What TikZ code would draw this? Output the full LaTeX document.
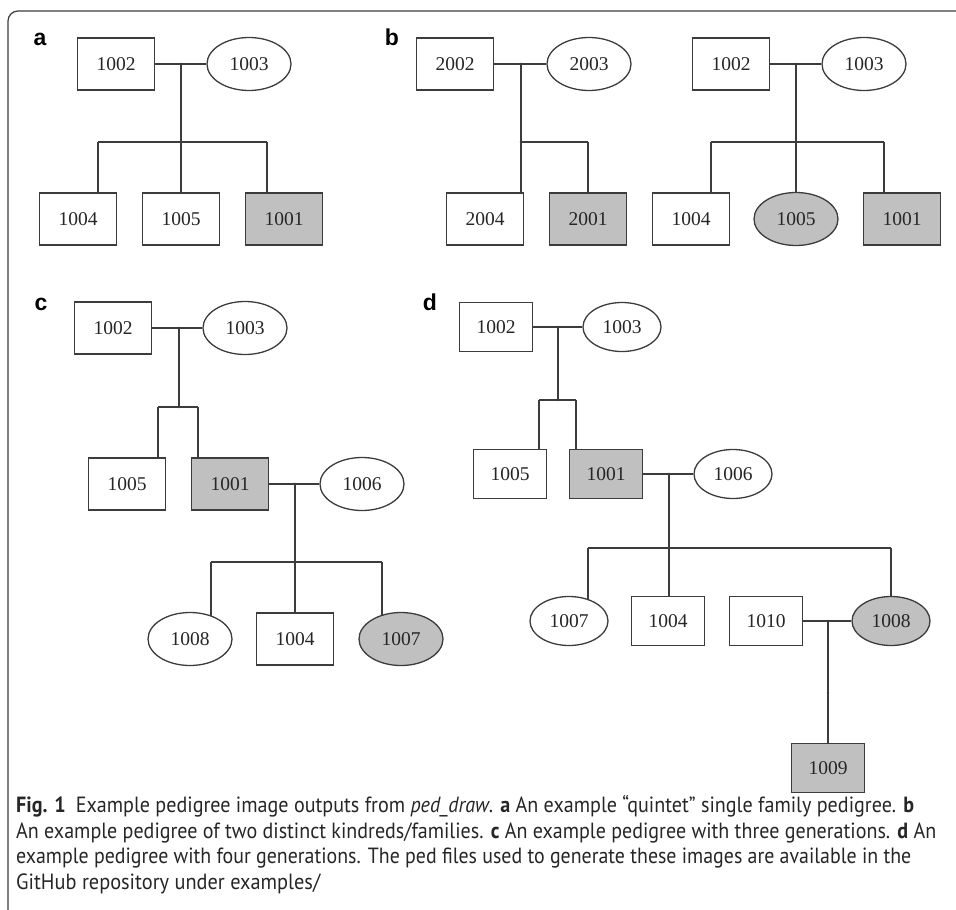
\documentclass[tikz,border=0pt]{standalone}
\usepackage{fontspec}
\usepackage{graphicx}
\setmainfont{Liberation Serif}
\newfontfamily\capfont{PT Sans}
\newfontfamily\labfont{Liberation Sans}
\usetikzlibrary{shapes.geometric,backgrounds}
\definecolor{pedgray}{RGB}{192,192,192}
\definecolor{pedline}{RGB}{60,60,60}
\tikzset{
  male/.style={draw=pedline,line width=1.3pt,fill=white,rectangle,minimum width=77pt,minimum height=52pt,inner sep=0pt,text=black!85,font=\fontsize{19.5}{20}\selectfont},
  female/.style={male,ellipse,minimum width=84pt,minimum height=53pt},
  affected/.style={fill=pedgray},
  dsize/.style={minimum width=73pt,minimum height=49pt},
  dfsize/.style={minimum width=78pt,minimum height=49pt},
  panel/.style={anchor=base,inner sep=0pt,font=\labfont\bfseries\fontsize{23}{23}\selectfont},
  link/.style={draw=pedline,line width=1.3pt},
  capline/.style={anchor=base west,inner sep=0pt,text=black!85,font=\capfont\fontsize{22}{25}\selectfont}
}
\begin{document}
\begin{tikzpicture}[x=1pt,y=-1pt]
\useasboundingbox (0,0) rectangle (956,910);
\draw[draw=pedline,line width=1.2pt,rounded corners=10pt] (8,910) -- (8,11) -- (956,11);
\begin{scope}
\node[panel] (la) at (40,45) {a};
\node[male] (a1002) at (116,64) {1002};
\node[female] (a1003) at (249,64) {1003};
\node[male] (a1004) at (78,219) {1004};
\node[male] (a1005) at (181,219) {1005};
\node[male,affected] (a1001) at (284,219) {1001};
\coordinate (am) at (181,64);
\coordinate (aj) at (181,142);
\coordinate (al) at (98,142);
\coordinate (ar) at (267,142);
\begin{scope}[on background layer]
\draw[link] (a1002) -- (a1003);
\draw[link] (am) -- (aj);
\draw[link] (al) -- (ar);
\draw[link] (al) -- (al |- a1004.center);
\draw[link] (aj) -- (aj |- a1005.center);
\draw[link] (ar) -- (ar |- a1001.center);
\end{scope}
\end{scope}
\begin{scope}
\node[panel] (lb) at (392,45) {b};
\node[male] (b2002) at (455,64) {2002};
\node[female] (b2003) at (589,64) {2003};
\node[male] (b2004) at (485,219) {2004};
\node[male,affected] (b2001) at (588,219) {2001};
\coordinate (bm) at (521,64);
\coordinate (bj) at (521,142);
\coordinate (br) at (588,142);
\node[male] (b1002) at (731,64) {1002};
\node[female] (b1003) at (864,64) {1003};
\node[male] (b1004) at (691,219) {1004};
\node[female,affected] (b1005) at (796,219) {1005};
\node[male,affected] (b1001) at (902,219) {1001};
\coordinate (bm2) at (796,64);
\coordinate (bj2) at (796,142);
\coordinate (bl2) at (711,142);
\coordinate (br2) at (884,142);
\begin{scope}[on background layer]
\draw[link] (b2002) -- (b2003);
\draw[link] (bm) -- (bj);
\draw[link] (bj) -- (br);
\draw[link] (bj) -- (bj |- b2004.center);
\draw[link] (br) -- (br |- b2001.center);
\draw[link] (b1002) -- (b1003);
\draw[link] (bm2) -- (bj2);
\draw[link] (bl2) -- (br2);
\draw[link] (bl2) -- (bl2 |- b1004.center);
\draw[link] (bj2) -- (bj2 |- b1005.center);
\draw[link] (br2) -- (br2 |- b1001.center);
\end{scope}
\end{scope}
\begin{scope}
\node[panel] (lc) at (41,310) {c};
\node[male] (c1002) at (113,328) {1002};
\node[female] (c1003) at (245,328) {1003};
\node[male] (c1005) at (127,484) {1005};
\node[male,affected] (c1001) at (230,484) {1001};
\node[female] (c1006) at (362,484) {1006};
\node[female] (c1008) at (190,639) {1008};
\node[male] (c1004) at (295,639) {1004};
\node[female,affected] (c1007) at (401,639) {1007};
\coordinate (cm) at (179,328);
\coordinate (cj) at (179,407);
\coordinate (cl) at (158,407);
\coordinate (cr) at (198,407);
\coordinate (cm2) at (295,484);
\coordinate (cj2) at (295,562);
\coordinate (cl2) at (211,562);
\coordinate (cr2) at (382,562);
\begin{scope}[on background layer]
\draw[link] (c1002) -- (c1003);
\draw[link] (cm) -- (cj);
\draw[link] (cl) -- (cr);
\draw[link] (cl) -- (cl |- c1005.center);
\draw[link] (cr) -- (cr |- c1001.center);
\draw[link] (c1001) -- (c1006);
\draw[link] (cm2) -- (cj2);
\draw[link] (cl2) -- (cr2);
\draw[link] (cl2) -- (cl2 |- c1008.center);
\draw[link] (cj2) -- (cj2 |- c1004.center);
\draw[link] (cr2) -- (cr2 |- c1007.center);
\end{scope}
\end{scope}
\begin{scope}
\node[panel] (ld) at (430,310) {d};
\node[male,dsize] (d1002) at (496,327) {1002};
\node[female,dfsize] (d1003) at (622,327) {1003};
\node[male,dsize] (d1005) at (510,474) {1005};
\node[male,dsize,affected] (d1001) at (606,474) {1001};
\node[female,dfsize] (d1006) at (733,474) {1006};
\node[female,dfsize] (d1007) at (569,621) {1007};
\node[male,dsize] (d1004) at (668,621) {1004};
\node[male,dsize] (d1010) at (766,621) {1010};
\node[female,dfsize,affected] (d1008) at (891,621) {1008};
\node[male,dsize,affected] (d1009) at (828,768) {1009};
\coordinate (dm) at (558,327);
\coordinate (dj) at (558,400);
\coordinate (dl) at (539,400);
\coordinate (dr) at (576,400);
\coordinate (dm2) at (669,474);
\coordinate (dj2) at (669,548);
\coordinate (dl2) at (588,548);
\coordinate (dr2) at (891,548);
\coordinate (dm3) at (828,621);
\coordinate (dj3) at (828,693);
\begin{scope}[on background layer]
\draw[link] (d1002) -- (d1003);
\draw[link] (dm) -- (dj);
\draw[link] (dl) -- (dr);
\draw[link] (dl) -- (dl |- d1005.center);
\draw[link] (dr) -- (dr |- d1001.center);
\draw[link] (d1001) -- (d1006);
\draw[link] (dm2) -- (dj2);
\draw[link] (dl2) -- (dr2);
\draw[link] (dl2) -- (dl2 |- d1007.center);
\draw[link] (dj2) -- (dj2 |- d1004.center);
\draw[link] (dr2) -- (dr2 |- d1008.center);
\draw[link] (d1010) -- (d1008);
\draw[link] (dm3) -- (dj3);
\draw[link] (dj3) -- (dj3 |- d1009.center);
\end{scope}
\end{scope}
\foreach \j in {am,aj,bm,bj,bm2,bj2,cm,cj,cm2,cj2,dm,dj,dm2,dj2,dm3,dj3}
  \fill[pedline] (\j) circle (1.3);
\node[capline] (cap1) at (16,812) {\resizebox{898pt}{\height}{\textbf{Fig. 1}\enspace Example pedigree image outputs from \textit{ped\_draw}. \textbf{a} An example “quintet” single family pedigree. \textbf{b}}};
\node[capline] (cap2) at (16,838) {\resizebox{920pt}{\height}{An example pedigree of two distinct kindreds/families. \textbf{c} An example pedigree with three generations. \textbf{d} An}};
\node[capline] (cap3) at (16,863) {\resizebox{895pt}{\height}{example pedigree with four generations. The ped files used to generate these images are available in the}};
\node[capline] (cap4) at (16,889) {\resizebox{304pt}{\height}{GitHub repository under examples/}};
\end{tikzpicture}
\end{document}
